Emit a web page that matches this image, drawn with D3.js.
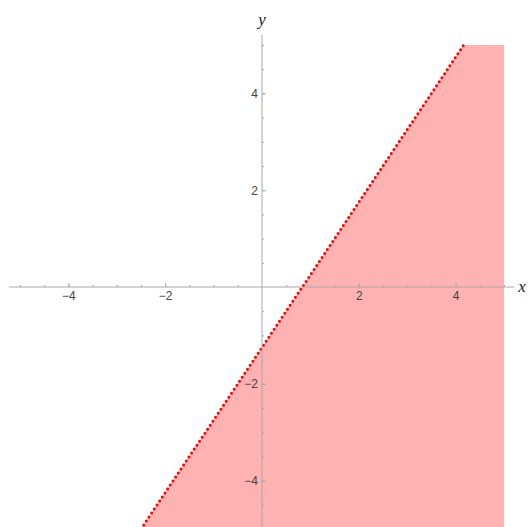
<!DOCTYPE html>
<html>
<head>
<meta charset="utf-8">
<script src="https://cdn.jsdelivr.net/npm/d3@7"></script>
<style>
  body { margin: 0; background: #fff; }
  svg { display: block; }
  .tick text { font-family: "Liberation Sans", Arial, sans-serif; font-size: 12px; fill: #444; }
  .axis-name { font-family: "Liberation Serif", "Times New Roman", serif; font-style: italic; font-size: 17px; fill: #222; }
</style>
</head>
<body>
<svg id="chart" width="528" height="527"></svg>
<script>
// plot window
const xDomain = [-5, 5]
const yDomain = [-5, 5]

// boundary of 3x - 2y > 5/2 (y = 1.5x - 1.25)
const boundaryX = [-2.5, 4.1667]
const boundaryY = [-5, 5]

// shaded region corners
const regionX = [-2.5, 4.1667, 5, 5]
const regionY = [-5, 5, 5, -5]

// ticks
const xMajorTicks = [-4, -2, 2, 4]
const yMajorTicks = [-4, -2, 2, 4]
const minorTicks = [-5, -4.5, -4, -3.5, -3, -2.5, -2, -1.5, -1, -0.5, 0.5, 1, 1.5, 2, 2.5, 3, 3.5, 4, 4.5, 5]

const width = 528, height = 527

const svg = d3.select('#chart')

const xScale = d3.scaleLinear()
                 .domain(xDomain)
                 .range([20, 504])

const yScale = d3.scaleLinear()
                 .domain(yDomain)
                 .range([529, 45])

svg.append('clipPath')
   .attr('id', 'plotClip')
   .append('rect')
   .attr('x', xScale(xDomain[0]))
   .attr('y', yScale(yDomain[1]) - 2)
   .attr('width', xScale(xDomain[1]) - xScale(xDomain[0]))
   .attr('height', yScale(yDomain[0]) - yScale(yDomain[1]) + 2)

const plot = svg.append('g').attr('clip-path', 'url(#plotClip)')

// shaded region
const region = regionX.map((x, i) => [x, regionY[i]])
plot.append('path')
    .datum(region)
    .attr('d', d3.line().x(d => xScale(d[0])).y(d => yScale(d[1])).curve(d3.curveLinearClosed))
    .attr('fill', '#ffb2b2')

const axisColor = '#a8a8a8'

// axis lines, a bit longer than the plot range
svg.append('line')
   .attr('x1', xScale(-5.23)).attr('x2', xScale(5.21))
   .attr('y1', yScale(0)).attr('y2', yScale(0))
   .attr('stroke', axisColor)

svg.append('line')
   .attr('x1', xScale(0)).attr('x2', xScale(0))
   .attr('y1', yScale(5.21)).attr('y2', yScale(-5.3))
   .attr('stroke', axisColor)

const xMinor = d3.axisBottom(xScale).tickValues(minorTicks).tickSizeInner(-2).tickSizeOuter(0).tickFormat('')
const xMajor = d3.axisBottom(xScale).tickValues(xMajorTicks).tickSizeInner(-4).tickSizeOuter(0).tickPadding(4)
const yMinor = d3.axisLeft(yScale).tickValues(minorTicks).tickSizeInner(-2).tickSizeOuter(0).tickFormat('')
const yMajor = d3.axisLeft(yScale).tickValues(yMajorTicks).tickSizeInner(-4).tickSizeOuter(0).tickPadding(4)

const drawAxis = (axis, transform) => {
    const g = svg.append('g')
                 .attr('transform', transform)
                 .call(axis)
    g.select('.domain').remove()
    g.selectAll('.tick line').attr('stroke', axisColor)
    return g
}

drawAxis(xMinor, 'translate(0,' + yScale(0) + ')')
drawAxis(xMajor, 'translate(0,' + yScale(0) + ')')
drawAxis(yMinor, 'translate(' + xScale(0) + ',0)')
drawAxis(yMajor, 'translate(' + xScale(0) + ',0)')

svg.selectAll('.tick text').attr('font-family', null).attr('font-size', null)

// axis names
svg.append('text')
   .attr('class', 'axis-name')
   .attr('x', xScale(5.21) + 4)
   .attr('y', yScale(0) + 5)
   .text('x')

svg.append('text')
   .attr('class', 'axis-name')
   .attr('x', xScale(0))
   .attr('y', yScale(5.21) - 10)
   .attr('text-anchor', 'middle')
   .text('y')

// dotted boundary
const boundary = boundaryX.map((x, i) => [x, boundaryY[i]])
plot.append('path')
    .datum(boundary)
    .attr('d', d3.line().x(d => xScale(d[0])).y(d => yScale(d[1])))
    .attr('fill', 'none')
    .attr('stroke', '#ff0000')
    .attr('stroke-width', 3)
    .attr('stroke-linecap', 'round')
    .attr('stroke-dasharray', '0 4.8')
</script>
</body>
</html>
